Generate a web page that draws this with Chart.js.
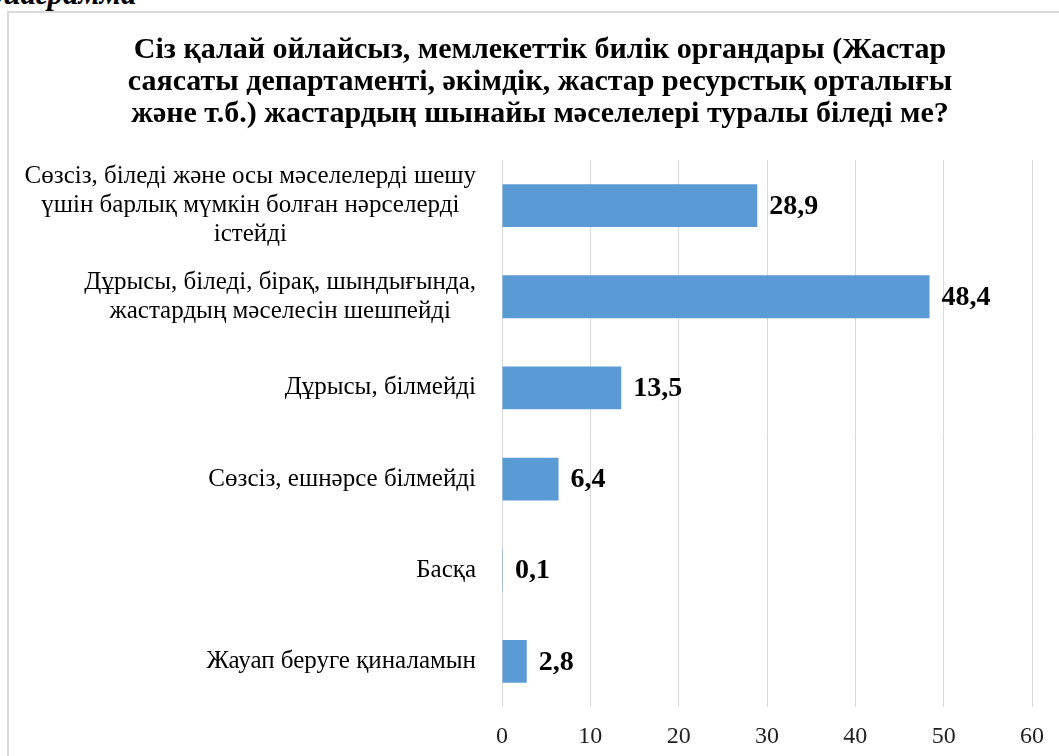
<!DOCTYPE html>
<html>
<head>
<meta charset="utf-8">
<title>Мемлекеттік органдар жастардың мәселелері туралы</title>
<script src="https://cdn.jsdelivr.net/npm/chart.js@4.4.1/dist/chart.umd.min.js"></script>
<style>
	html, body { margin: 0; padding: 0; background: #fff; overflow: hidden; }
	body { width: 1059px; height: 756px; position: relative; }
	.frame { position: absolute; left: 7px; top: 11px; width: 1100px; height: 800px; border-left: 2px solid #d9d9d9; border-top: 2px solid #d9d9d9; }
	.caption { position: absolute; left: -12px; top: -22px; font: italic bold 31px 'Liberation Serif', serif; line-height: 31px; color: #000; white-space: nowrap; }
	.wrap { position: absolute; left: 0; top: 0; width: 1059px; height: 756px; }
</style>
</head>
<body>
<div class="caption">диаграмма</div>
<div class="frame"></div>
<div class="wrap"><canvas id="answersChart"></canvas></div>
<script>
// survey answers, %
const categories = [
	['Сөзсіз, біледі және осы мәселелерді шешу', 'үшін барлық мүмкін болған нәрселерді', 'істейді'],
	['Дұрысы, біледі, бірақ, шындығында,', 'жастардың мәселесін шешпейді'],
	['Дұрысы, білмейді'],
	['Сөзсіз, ешнәрсе білмейді'],
	['Басқа'],
	['Жауап беруге қиналамын']
];
const shares = [28.9, 48.4, 13.5, 6.4, 0.1, 2.8];
const axisTicks = [0, 10, 20, 30, 40, 50, 60];
const titleLines = [
	'Сіз қалай ойлайсыз, мемлекеттік билік органдары (Жастар',
	'саясаты департаменті, әкімдік, жастар ресурстық орталығы',
	'және т.б.) жастардың шынайы мәселелері туралы біледі ме?'
];

;(function (window, document, undefined) {
	'use strict';

	const serif = "'Liberation Serif', 'Times New Roman', serif";

	// excel-ish look: title centred on the frame, labels centred line by line, values after bars
	let textPlugin = {
		id: 'textPlugin',
		afterDraw: function (chart) {
			let ctx	= chart.ctx;
			let y	= chart.scales.y;
			let x	= chart.scales.x;

			ctx.save();
			ctx.fillStyle		= '#000';
			ctx.textBaseline	= 'middle';

			ctx.font		= 'bold 30px ' + serif;
			ctx.textAlign	= 'center';
			titleLines.forEach(function (line, i) {
				ctx.fillText(line, 540, 50 + i * 32);
			});

			ctx.font = '25px ' + serif;
			categories.forEach(function (lines, i) {
				let cy		= y.getPixelForValue(i);
				let widest	= Math.max.apply(null, lines.map(function (l) { return ctx.measureText(l).width; }));
				let cx		= y.right - 26 - widest / 2;
				let lh		= 29;
				lines.forEach(function (l, j) {
					ctx.fillText(l, cx, cy + (j - (lines.length - 1) / 2) * lh);
				});
			});

			ctx.font		= 'bold 28px ' + serif;
			ctx.textAlign	= 'left';
			shares.forEach(function (v, i) {
				ctx.fillText(v.toFixed(1).replace('.', ','), x.getPixelForValue(v) + 12, y.getPixelForValue(i) + 1);
			});
			ctx.restore();
		}
	};

	let ctx = document.getElementById('answersChart').getContext('2d');

	let answersChart = new Chart(ctx, {
		type: 'bar',
		data: {
			labels: categories,
			datasets: [{
				data: shares,
				backgroundColor: '#5b9bd5',
				categoryPercentage: 1,
				barPercentage: 0.47
			}]
		},
		options: {
			indexAxis: 'y',
			responsive: true,
			maintainAspectRatio: false,
			animation: false,
			layout: {
				padding: { left: 0, right: 27, top: 160, bottom: 0 }
			},
			plugins: {
				legend: { display: false },
				tooltip: { enabled: false },
				title: { display: false }
			},
			scales: {
				x: {
					min: axisTicks[0],
					max: axisTicks[axisTicks.length - 1],
					afterBuildTicks: function (scale) {
						scale.ticks = axisTicks.map(function (v) { return { value: v }; });
					},
					ticks: {
						color: '#1f1f1f',
						font: { family: serif, size: 24 },
						padding: 15
					},
					grid: { color: '#d9d9d9', drawTicks: false },
					border: { display: false },
					afterFit: function (scale) { scale.height = 49; }
				},
				y: {
					ticks: { display: false },
					grid: { display: false },
					border: { display: false },
					afterFit: function (scale) { scale.width = 502; }
				}
			}
		},
		plugins: [textPlugin]
	});

})(window, document);
</script>
</body>
</html>
